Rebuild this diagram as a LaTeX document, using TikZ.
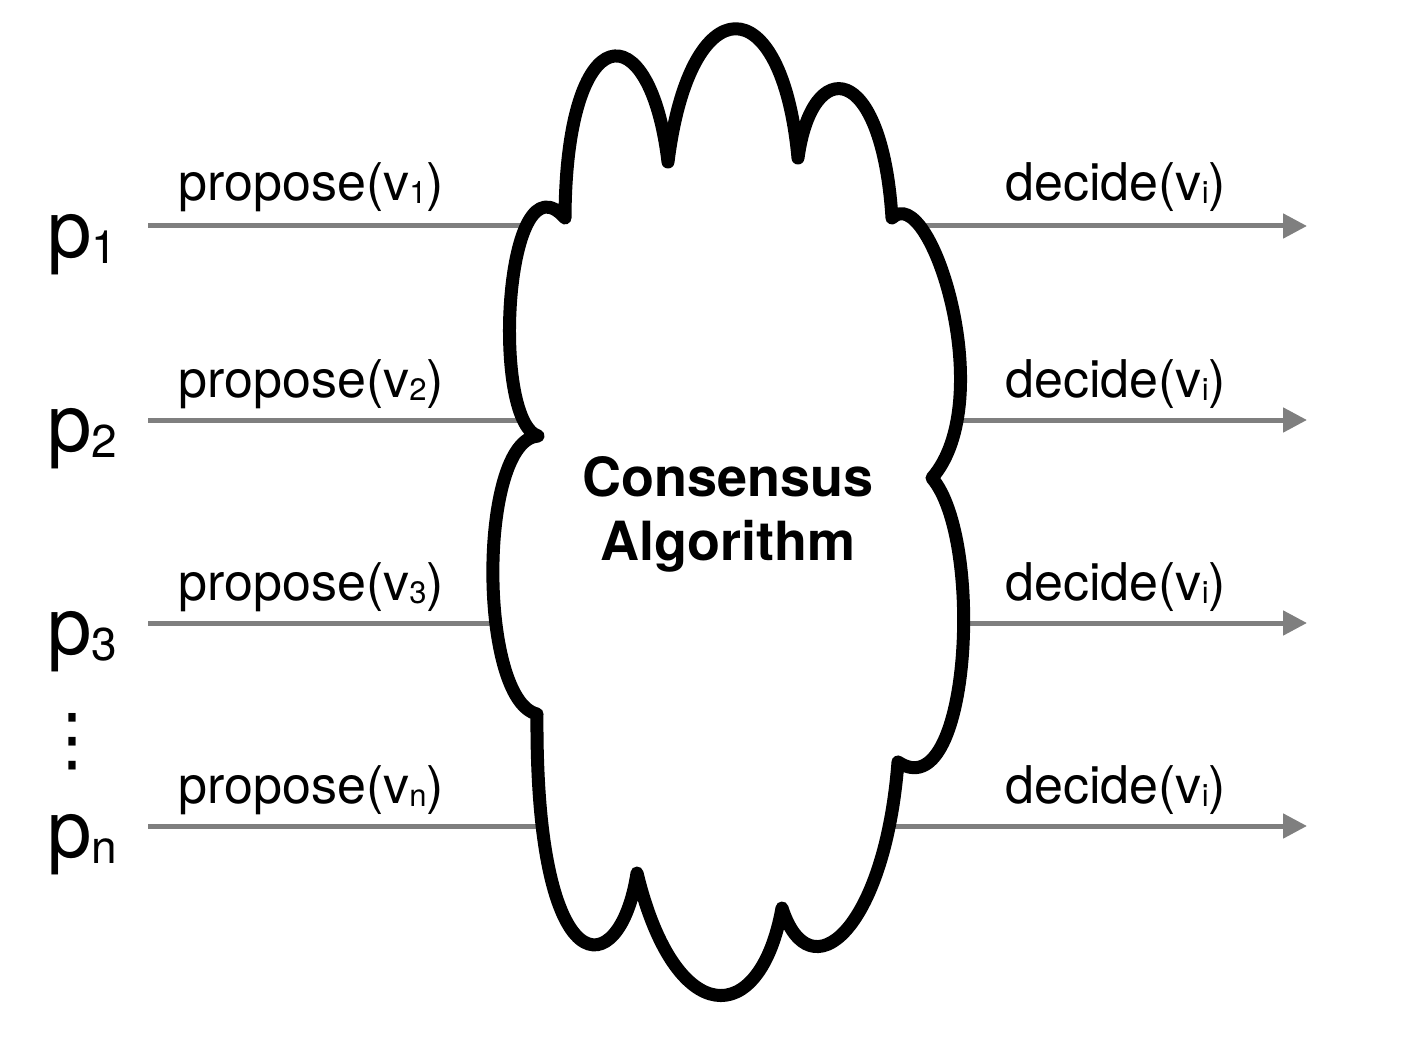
\documentclass[tikz,border=0pt]{standalone}
\usepackage{fontspec}
\setmainfont{TeX Gyre Heros}
\newfontfamily\symfont{DejaVu Sans}
\usetikzlibrary{arrows.meta}
\newcommand\lsub[1]{\raisebox{-1.5pt}{\fontsize{15.5}{15.5}\selectfont #1}}
\newcommand\psub[1]{\raisebox{-3pt}{\fontsize{23}{23}\selectfont #1}}
\definecolor{linegray}{HTML}{7F7F7F}
\begin{document}
\begin{tikzpicture}[x=0.5pt,y=-0.5pt,
  flow/.style={draw=linegray, line width=2.5pt, -{Triangle[length=12pt,width=12pt]}},
  cloudline/.style={draw=black, fill=white, line width=6.5pt, line join=round, line cap=round},
  proc/.style={anchor=base west, inner sep=0pt, font=\fontsize{40}{40}\selectfont},
  lbl/.style={anchor=base west, inner sep=0pt, font=\fontsize{26}{26}\selectfont},
  title/.style={align=center, inner sep=0pt, font=\fontsize{27}{32}\selectfont\bfseries}]
\useasboundingbox (0,0) rectangle (1426,1038);
% connector end points
\coordinate (s1) at (148,226); \coordinate (e1) at (1307,226);
\coordinate (s2) at (148,420); \coordinate (e2) at (1307,420);
\coordinate (s3) at (148,623); \coordinate (e3) at (1307,623);
\coordinate (s4) at (148,826); \coordinate (e4) at (1307,826);
\draw[flow] (s1) -- (e1);
\draw[flow] (s2) -- (e2);
\draw[flow] (s3) -- (e3);
\draw[flow] (s4) -- (e4);
% cloud
\draw[cloudline] (565,218)
  .. controls (566,15) and (650,10) .. (668,162)
  .. controls (690,-15) and (782,-15) .. (798,158)
  .. controls (812,55) and (882,60) .. (892,218)
  .. controls (930,180) and (1000,400) .. (932,478)
  .. controls (985,540) and (970,810) .. (898,762)
  .. controls (885,930) and (810,995) .. (782,908)
  .. controls (760,1030) and (675,1030) .. (637,873)
  .. controls (620,985) and (535,990) .. (537,714)
  .. controls (478,700) and (478,440) .. (538,436)
  .. controls (490,420) and (505,150) .. cycle;
\node[title] (alg) at (728,514) {Consensus\\Algorithm};
% processes
\node[proc] (p1) at (47,257) {p\psub{1}};
\node[proc] (p2) at (47,451) {p\psub{2}};
\node[proc] (p3) at (47,654) {p\psub{3}};
\node[proc] (pn) at (47,857) {p\psub{n}};
\node[inner sep=0pt, font=\symfont\fontsize{35}{35}\selectfont] (dots) at (72.5,742) {⋮};
% labels
\node[lbl] (prop1) at (178,201) {propose(v\lsub{1})};
\node[lbl] (prop2) at (178,397) {propose(v\lsub{2})};
\node[lbl] (prop3) at (178,600) {propose(v\lsub{3})};
\node[lbl] (propn) at (178,803) {propose(v\lsub{n})};
\node[lbl] (dec1) at (1005,201) {decide(v\lsub{i})};
\node[lbl] (dec2) at (1005,397) {decide(v\lsub{i})};
\node[lbl] (dec3) at (1005,600) {decide(v\lsub{i})};
\node[lbl] (decn) at (1005,803) {decide(v\lsub{i})};
\end{tikzpicture}
\end{document}
